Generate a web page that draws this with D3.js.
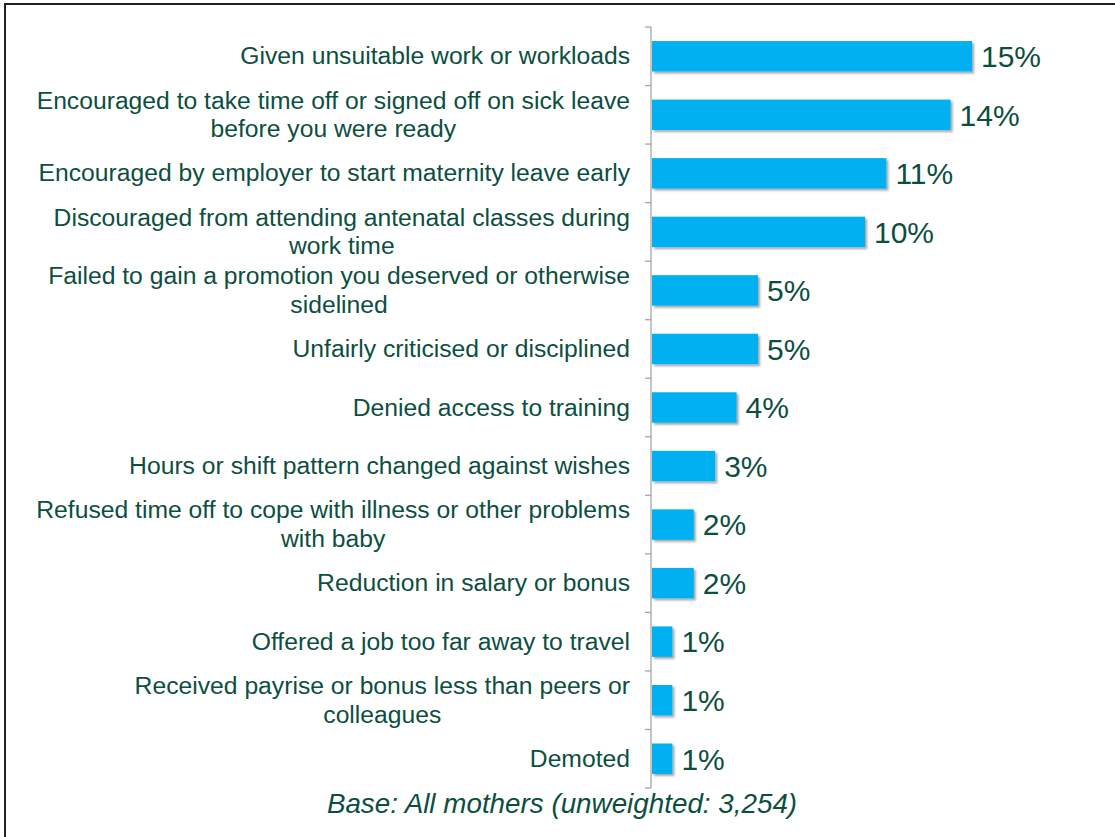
<!DOCTYPE html>
<html>
<head>
<meta charset="utf-8">
<script src="https://cdn.jsdelivr.net/npm/d3@7"></script>
<style>
  body { margin: 0; background: #fff; }
  svg { display: block; font-family: Arial, "Liberation Sans", sans-serif; }
</style>
</head>
<body>
<script>
// Categories (line breaks as in the original slide)
var categories = [
	["Given unsuitable work or workloads"],
	["Encouraged to take time off or signed off on sick leave", "before you were ready"],
	["Encouraged by employer to start maternity leave early"],
	["Discouraged from attending antenatal classes during", "work time"],
	["Failed to gain a promotion you deserved or otherwise", "sidelined"],
	["Unfairly criticised or disciplined"],
	["Denied access to training"],
	["Hours or shift pattern changed against wishes"],
	["Refused time off to cope with illness or other problems", "with baby"],
	["Reduction in salary or bonus"],
	["Offered a job too far away to travel"],
	["Received payrise or bonus less than peers or", "colleagues"],
	["Demoted"]
];
var values = [15, 14, 11, 10, 5, 5, 4, 3, 2, 2, 1, 1, 1];
var footnote = "Base: All mothers (unweighted: 3,254)";

var textColor = "#0c4f3f";
var barColor = "#00b0f0";

var width = 1115, height = 837;

var svg = d3.select("body")
	.append("svg")
		.attr("width", width)
		.attr("height", height);

// drop shadow for the bars
var defs = svg.append("defs");
defs.append("filter")
	.attr("id", "shadow")
	.attr("x", "-10%").attr("y", "-20%")
	.attr("width", "130%").attr("height", "160%")
	.append("feDropShadow")
		.attr("dx", 2).attr("dy", 2)
		.attr("stdDeviation", 1.2)
		.attr("flood-color", "#000")
		.attr("flood-opacity", 0.35);

// frame
svg.append("rect")
	.attr("x", 5).attr("y", 4)
	.attr("width", width + 20).attr("height", height + 20)
	.attr("fill", "none")
	.attr("stroke", "#222")
	.attr("stroke-width", 2);

var x0 = 651;
var x = d3.scaleLinear().domain([0, 15]).range([x0, 972]);
var y = d3.scaleBand()
	.domain(d3.range(categories.length))
	.range([27, 788])
	.paddingInner(0.48)
	.paddingOuter(0.24);

// bars
svg.selectAll("rect.bar")
	.data(values)
	.enter()
	.append("rect")
		.attr("class", "bar")
		.attr("x", x0 + 1)
		.attr("y", function (d, i) { return y(i); })
		.attr("width", function (d) { return x(d) - x0 - 1; })
		.attr("height", y.bandwidth())
		.attr("fill", barColor)
		.attr("filter", "url(#shadow)");

// axis line with ticks at band edges
var tickYs = d3.range(categories.length + 1).map(function (i) { return 27 + i * (761 / categories.length); });
svg.append("line")
	.attr("x1", x0).attr("x2", x0)
	.attr("y1", 27).attr("y2", 788)
	.attr("stroke", "#a6a6a6").attr("stroke-width", 1.3);
svg.selectAll("line.tick")
	.data(tickYs)
	.enter()
	.append("line")
		.attr("class", "tick")
		.attr("x1", x0 - 6).attr("x2", x0)
		.attr("y1", function (d) { return d; })
		.attr("y2", function (d) { return d; })
		.attr("stroke", "#a6a6a6").attr("stroke-width", 1.3);

// value labels
svg.selectAll("text.val")
	.data(values)
	.enter()
	.append("text")
		.attr("class", "val")
		.attr("x", function (d) { return x(d) + 9; })
		.attr("y", function (d, i) { return y(i) + y.bandwidth() / 2; })
		.attr("dy", "0.36em")
		.attr("font-size", 30)
		.attr("fill", textColor)
		.text(function (d) { return d + "%"; });

// category labels: block right aligned, lines centred inside block
var labelRight = 630, lineH = 28.8;
var groups = svg.selectAll("g.label")
	.data(categories)
	.enter()
	.append("g")
		.attr("class", "label");

groups.each(function (lines, i) {
	var g = d3.select(this);
	var cy = y(i) + y.bandwidth() / 2;
	var texts = g.selectAll("text")
		.data(lines)
		.enter()
		.append("text")
			.attr("font-size", 24.7)
			.attr("fill", textColor)
			.attr("text-anchor", "middle")
			.attr("dy", "0.33em")
			.attr("y", function (d, j) { return cy + (j - (lines.length - 1) / 2) * lineH; })
			.text(function (d) { return d; });
	var w = d3.max(texts.nodes(), function (n) { return n.getComputedTextLength(); });
	texts.attr("x", labelRight - w / 2);
});

// footnote
svg.append("text")
	.attr("x", 562)
	.attr("y", 813)
	.attr("text-anchor", "middle")
	.attr("font-size", 27.8)
	.attr("font-style", "italic")
	.attr("fill", textColor)
	.text(footnote);
</script>
</body>
</html>
